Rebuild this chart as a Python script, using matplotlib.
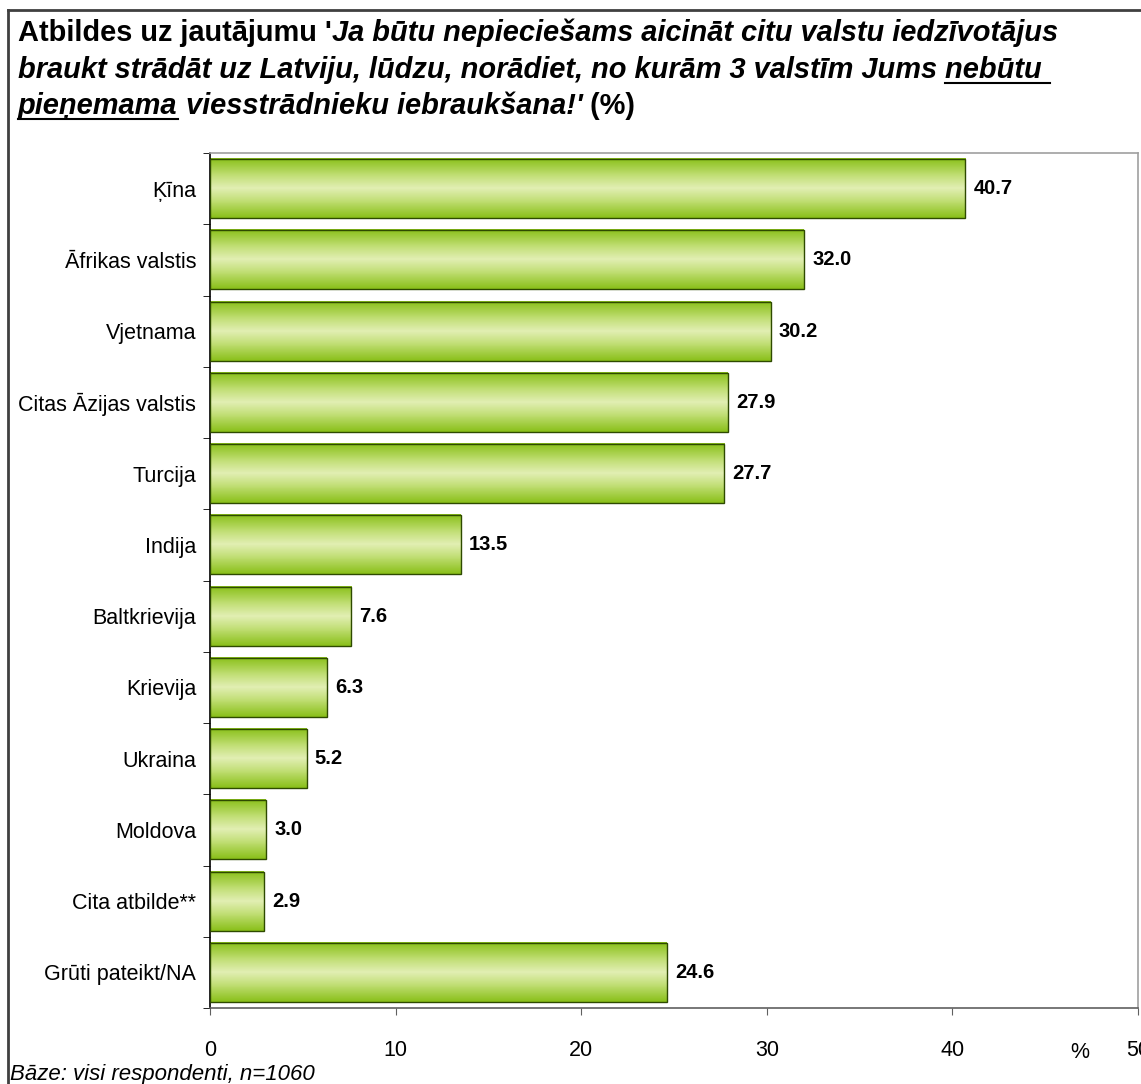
import numpy as np
import matplotlib
matplotlib.use("Agg")
import matplotlib.pyplot as plt
from matplotlib.colors import LinearSegmentedColormap
from matplotlib.patches import Rectangle
from matplotlib.lines import Line2D

plt.rcParams['font.family'] = ['Liberation Sans', 'DejaVu Sans']

# Data
categories = ['Ķīna', 'Āfrikas valstis', 'Vjetnama', 'Citas Āzijas valstis', 'Turcija',
              'Indija', 'Baltkrievija', 'Krievija', 'Ukraina', 'Moldova',
              'Cita atbilde**', 'Grūti pateikt/NA']
values = [40.7, 32.0, 30.2, 27.9, 27.7, 13.5, 7.6, 6.3, 5.2, 3.0, 2.9, 24.6]
x_ticks = [0, 10, 20, 30, 40, 50]

W, H = 1141, 1084
fig = plt.figure(figsize=(W / 100, H / 100), dpi=100)
ax = fig.add_axes([210 / W, 1 - 1008 / H, 928 / W, 855 / H])

# gradient: dark green at edges, pale in the middle
green = LinearSegmentedColormap.from_list(
    'bar', [(0.0, '#8ac01a'), (0.3, '#c4e07a'), (0.5, '#e2efb4'),
            (0.7, '#c4e07a'), (1.0, '#8ac01a')])
grad = np.linspace(0, 1, 64).reshape(-1, 1)

bar_h = 0.83
for i, v in enumerate(values):
    y0, y1 = i - bar_h / 2, i + bar_h / 2
    ax.imshow(grad, cmap=green, aspect='auto', extent=[0, v, y1, y0],
              interpolation='bilinear', zorder=2)
    ax.add_patch(Rectangle((0, y0), v, bar_h, fill=False, edgecolor='#2e4a00',
                           linewidth=1.0, zorder=3))
    ax.text(v + 0.45, i, f'{v:.1f}', va='center', ha='left', fontsize=14.5,
            fontweight='bold', zorder=4)

ax.set_xlim(0, 50)
ax.set_ylim(len(categories) - 0.5, -0.5)
ax.set_xticks(x_ticks)
ax.set_xticklabels([str(t) for t in x_ticks], fontsize=15.5)
ax.set_yticks(range(len(categories)))
ax.set_yticklabels(categories, fontsize=15.5)
ax.set_yticks(np.arange(len(categories) + 1) - 0.5, minor=True)
ax.tick_params(axis='y', which='major', length=0, pad=10)
ax.tick_params(axis='y', which='minor', length=5, color='#000000')
ax.tick_params(axis='x', length=5, color='#606060', pad=18)

ax.spines['left'].set_color('#000000')
ax.spines['bottom'].set_color('#606060')
ax.spines['top'].set_color('#a0a0a0')
ax.spines['right'].set_color('#a0a0a0')
for s in ax.spines.values():
    s.set_linewidth(1.2)

fig.text(1080 / W, 1 - 1052 / H, '%', fontsize=15.5, ha='center', va='center')
fig.text(10 / W, 1 - 1080 / H, 'Bāze: visi respondenti, n=1060', fontsize=16,
         style='italic', va='baseline')

# outer frame
fig.add_artist(Line2D([8 / W, 1], [1 - 10 / H, 1 - 10 / H], color='#404040', lw=2))
fig.add_artist(Line2D([8 / W, 8 / W], [0, 1 - 10 / H], color='#404040', lw=2))

# title, built piece by piece
renderer = fig.canvas.get_renderer()
title_lines = [
    [("Atbildes uz jautājumu '", 'normal', False),
     ("Ja būtu nepieciešams aicināt citu valstu iedzīvotājus", 'italic', False)],
    [("braukt strādāt uz Latviju, lūdzu, norādiet, no kurām 3 valstīm Jums ", 'italic', False),
     ("nebūtu ", 'italic', True)],
    [("pieņemama", 'italic', True),
     (" viesstrādnieku iebraukšana!'", 'italic', False),
     (" (%)", 'normal', False)],
]
baselines = [41, 78, 114]
for parts, base in zip(title_lines, baselines):
    x = 18
    for txt, style, under in parts:
        t = fig.text(x / W, 1 - base / H, txt, fontsize=20.9, fontweight='bold',
                     style=style, va='baseline', ha='left')
        bb = t.get_window_extent(renderer)
        if under:
            uy = 1 - (base + 5) / H
            fig.add_artist(Line2D([bb.x0 / W, bb.x1 / W], [uy, uy], color='black', lw=1.5))
        x += bb.width

fig.savefig('out.png', dpi=100)
